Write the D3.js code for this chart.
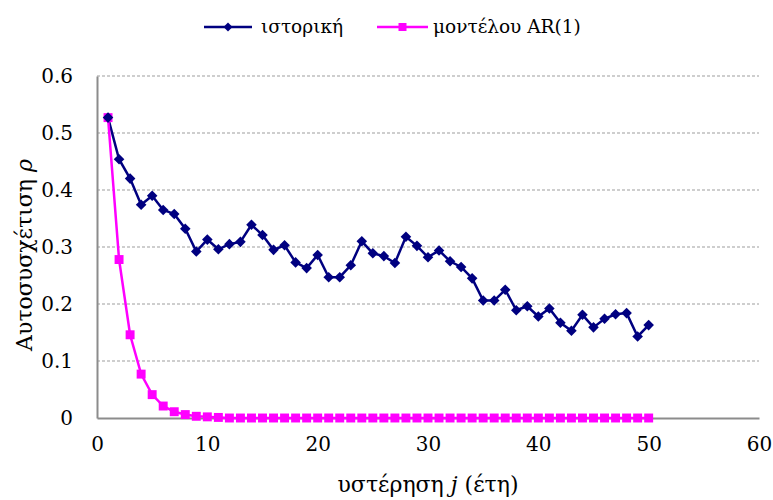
<!DOCTYPE html>
<html><head><meta charset="utf-8">
<script src="https://cdn.jsdelivr.net/npm/d3@7"></script>
<style>body{margin:0;background:#fff}text{font-family:"DejaVu Serif",serif}</style>
</head><body><svg id="c" width="773" height="500"></svg>
<script>
const lags = d3.range(1, 51);
const historical = [0.527,0.454,0.420,0.374,0.390,0.365,0.358,0.332,0.292,0.313,
0.296,0.305,0.309,0.339,0.321,0.295,0.303,0.273,0.263,0.286,
0.247,0.247,0.268,0.310,0.289,0.284,0.272,0.318,0.302,0.282,
0.294,0.275,0.265,0.245,0.206,0.206,0.225,0.189,0.196,0.178,
0.192,0.167,0.153,0.181,0.159,0.174,0.182,0.184,0.143,0.163];
const ar1 = [0.527,0.278,0.146,0.077,0.041,0.021,0.011,0.006,0.003,0.002,
0.001,0,0,0,0,0,0,0,0,0,0,0,0,0,0,0,0,0,0,0,0,0,0,0,0,0,0,0,0,0,0,0,0,0,0,0,0,0,0,0];
const xTicks = [0,10,20,30,40,50,60];
const yTicks = [0,0.1,0.2,0.3,0.4,0.5,0.6];
const seriesNames = ["ιστορική","μοντέλου AR(1)"];
const colors = ["#000080","#ff00ff"];
const FONT = "DejaVu Serif";

const svg = d3.select("#c");
const x = d3.scaleLinear().domain([0,60]).range([97,759]);
const y = d3.scaleLinear().domain([0,0.6]).range([418,76]);

// grid
svg.append("g").selectAll("line").data(yTicks.filter(d=>d>0)).join("line")
  .attr("x1",x(0)).attr("x2",x(60)).attr("y1",d=>y(d)).attr("y2",d=>y(d))
  .attr("stroke","#bfbfbf").attr("stroke-width",1.5).attr("stroke-dasharray","3,2");

// axes
const yAx = svg.append("g").attr("transform",`translate(${x(0)},0)`)
  .call(d3.axisLeft(y).tickValues(yTicks).tickSize(0).tickPadding(24).tickFormat(d=>d===0?"0":d3.format(".1f")(d)));
const xAx = svg.append("g").attr("transform",`translate(0,${y(0)})`)
  .call(d3.axisBottom(x).tickValues(xTicks).tickSize(0).tickPadding(19).tickFormat(d3.format("d")));
[yAx,xAx].forEach(a=>{
  a.select(".domain").attr("stroke","#8c8c8c").attr("stroke-width",2);
  a.selectAll("text").attr("font-size",20).attr("fill","#000").attr("font-family",FONT);
});

// lines
const series = [historical, ar1];
const line = d3.line().x((d,i)=>x(lags[i])).y(d=>y(d));
series.forEach((s,k)=>{
  svg.append("path").datum(s).attr("d",line).attr("fill","none")
    .attr("stroke",colors[k]).attr("stroke-width",2.5);
});
// markers
svg.append("g").selectAll("path").data(ar1).join("path")
  .attr("transform",(d,i)=>`translate(${x(lags[i])},${y(d)})`)
  .attr("d",d3.symbol(d3.symbolSquare,80)).attr("fill",colors[1]);
svg.append("g").selectAll("path").data(historical).join("path")
  .attr("transform",(d,i)=>`translate(${x(lags[i])},${y(d)}) rotate(45)`)
  .attr("d",d3.symbol(d3.symbolSquare,56)).attr("fill",colors[0]);

// legend
const leg = [{x1:204,x2:252,tx:261},{x1:377,x2:428,tx:433}];
leg.forEach((l,k)=>{
  const g = svg.append("g");
  g.append("line").attr("x1",l.x1).attr("x2",l.x2).attr("y1",27).attr("y2",27)
    .attr("stroke",colors[k]).attr("stroke-width",2.5);
  const cx=(l.x1+l.x2)/2;
  g.append("path").attr("transform",k===0?`translate(${cx},27) rotate(45)`:`translate(${cx},27)`)
    .attr("d",d3.symbol(d3.symbolSquare,k===0?40:64)).attr("fill",colors[k]);
  g.append("text").attr("x",l.tx).attr("y",33).attr("font-size",18.5).text(seriesNames[k]);
});

// axis titles
const yt = svg.append("text").attr("transform","translate(32,255) rotate(-90)")
  .attr("text-anchor","middle").attr("font-size",22);
yt.append("tspan").text("Αυτοσυσχέτιση ");
yt.append("tspan").attr("font-style","italic").text("ρ");
const xt = svg.append("text").attr("x",428).attr("y",492).attr("text-anchor","middle").attr("font-size",22);
xt.append("tspan").text("υστέρηση ");
xt.append("tspan").attr("font-style","italic").text("j");
xt.append("tspan").text(" (έτη)");
</script></body></html>
